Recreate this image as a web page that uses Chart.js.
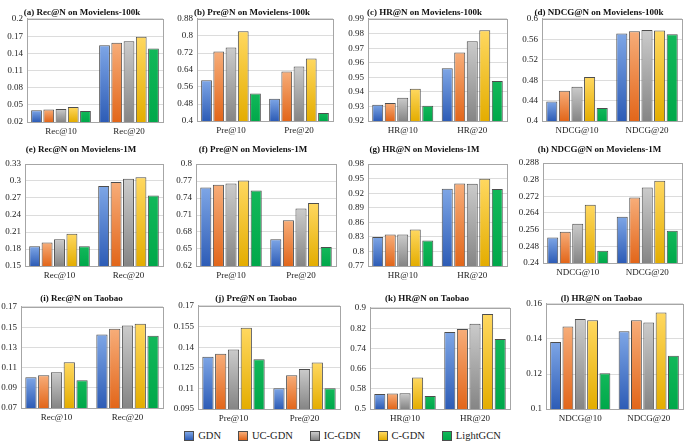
<!DOCTYPE html>
<html>
<head>
<meta charset="utf-8">
<script src="https://cdn.jsdelivr.net/npm/chart.js@4.4.1/dist/chart.umd.min.js"></script>
<style>
  body { margin: 0; background: #fff; width: 685px; height: 442px; position: relative; overflow: hidden; }
  canvas { position: absolute; }
  #legend { position: absolute; left: 0; top: 430px; width: 685px; display: flex; justify-content: center; gap: 17px;
            font-family: 'Liberation Serif', 'Times New Roman', serif; font-size: 10.5px; color: #222; }
  #legend span { display: flex; align-items: center; }
  #legend i { display: inline-block; width: 8px; height: 8px; border: 1px solid #4d4d4d; margin-right: 4px; }
</style>
</head>
<body>
<div id="legend"></div>
<script>
// series / categories
const seriesNames = ['GDN', 'UC-GDN', 'IC-GDN', 'C-GDN', 'LightGCN'];
const recLabels = ['Rec@10', 'Rec@20'];
const preLabels = ['Pre@10', 'Pre@20'];
const hrLabels = ['HR@10', 'HR@20'];
const ndcgLabels = ['NDCG@10', 'NDCG@20'];

// values: one row per series, [@10, @20]
const rec100k  = [[0.0405, 0.1543], [0.0417, 0.1584], [0.0429, 0.1613], [0.0464, 0.1689], [0.0393, 0.1484]];
const pre100k  = [[0.592, 0.505], [0.727, 0.633], [0.746, 0.656], [0.822, 0.694], [0.529, 0.438]];
const hr100k   = [[0.9312, 0.9562], [0.9324, 0.967], [0.936, 0.9748], [0.9422, 0.9822], [0.9305, 0.9475]];
const ndcg100k = [[0.4383, 0.5716], [0.4594, 0.5762], [0.4673, 0.5782], [0.4865, 0.5775], [0.4257, 0.5703]];
const rec1m    = [[0.1848, 0.291], [0.1913, 0.2981], [0.1972, 0.304], [0.2067, 0.3064], [0.1848, 0.2745]];
const pre1m    = [[0.7587, 0.6672], [0.7634, 0.7009], [0.7658, 0.7215], [0.7711, 0.731], [0.7534, 0.6536]];
const hr1m     = [[0.8299, 0.929], [0.8347, 0.940], [0.8347, 0.9394], [0.845, 0.9497], [0.8223, 0.9283]];
const ndcg1m   = [[0.2523, 0.2622], [0.255, 0.2714], [0.2589, 0.2762], [0.268, 0.2795], [0.2459, 0.2555]];
const recTb    = [[0.1005, 0.1428], [0.1025, 0.1484], [0.1054, 0.1516], [0.1152, 0.1533], [0.0975, 0.1415]];
const preTb    = [[0.1331, 0.1102], [0.1353, 0.1196], [0.1384, 0.1242], [0.1541, 0.1288], [0.1312, 0.1102]];
const hrTb     = [[0.5596, 0.8046], [0.561, 0.8166], [0.5622, 0.8377], [0.6245, 0.8762], [0.5517, 0.7768]];
const ndcgTb   = [[0.1383, 0.1444], [0.1472, 0.1507], [0.1514, 0.1495], [0.1507, 0.1552], [0.1204, 0.1305]];

// y tick ranges [min, max, step]
const yRanges = [
  [0.02, 0.2, 0.03], [0.4, 0.88, 0.08], [0.92, 0.99, 0.01], [0.4, 0.6, 0.04],
  [0.15, 0.33, 0.03], [0.62, 0.8, 0.03], [0.77, 0.98, 0.03], [0.24, 0.288, 0.008],
  [0.07, 0.17, 0.02], [0.095, 0.17, 0.015], [0.5, 0.9, 0.08], [0.1, 0.16, 0.02]
];

const titles = [
  '(a) Rec@N on Movielens-100k', '(b) Pre@N on Movielens-100k', '(c) HR@N on Movielens-100k', '(d) NDCG@N on Movielens-100k',
  '(e) Rec@N on Movielens-1M', '(f) Pre@N on Movielens-1M', '(g) HR@N on Movielens-1M', '(h) NDCG@N on Movielens-1M',
  '(i) Rec@N on Taobao', '(j) Pre@N on Taobao', '(k) HR@N on Taobao', '(l) HR@N on Taobao'
];
const allLabels = [recLabels, preLabels, hrLabels, ndcgLabels, recLabels, preLabels, hrLabels, ndcgLabels,
                   recLabels, preLabels, hrLabels, ndcgLabels];
const allValues = [rec100k, pre100k, hr100k, ndcg100k, rec1m, pre1m, hr1m, ndcg1m, recTb, preTb, hrTb, ndcgTb];

// layout: plot rectangles [left, top, right, bottom] on the page
const plots = [
  [27, 19, 163, 122], [197, 19, 333, 121], [368, 19, 507, 121], [542, 19, 682, 121],
  [25, 164, 163, 266], [196, 164, 336, 266], [368, 164, 507, 266], [543, 163, 682, 263],
  [21, 307, 163, 408], [198, 306, 340, 409], [370, 308, 510, 409], [546, 304, 683, 409]
];
const titleY = [12, 149, 298];

const fills = [
  ['#7ea6e6', '#2d5cb6'], ['#f7ad79', '#e2661a'], ['#cbcbcb', '#858585'], ['#ffd860', '#e4ad00'], ['#12b85a', '#00a84a']
];
const font = "'Liberation Serif', 'Times New Roman', serif";

function barFill(c0, c1) {
  return ctx => {
    const chart = ctx.chart;
    if (ctx.type !== 'data' || !chart.chartArea) return c1;
    const top = chart.scales.y.getPixelForValue(ctx.raw);
    const g = chart.ctx.createLinearGradient(0, top, 0, chart.chartArea.bottom);
    g.addColorStop(0, c0);
    g.addColorStop(1, c1);
    return g;
  };
}

const frame = {
  id: 'frame',
  beforeDatasetsDraw(chart) {
    const a = chart.chartArea, c = chart.ctx;
    c.save();
    c.strokeStyle = '#a6a6a6';
    c.lineWidth = 1;
    c.strokeRect(Math.round(a.left) + 0.5, Math.round(a.top) + 0.5, Math.round(a.right - a.left), Math.round(a.bottom - a.top));
    c.restore();
  }
};

plots.forEach((p, i) => {
  const [L, T, R, B] = p;
  const yw = L < 24 ? 21 : 26;
  const xh = 20;
  const left = L - yw;
  const top = Math.round(titleY[Math.floor(i / 4)] - 5.4);
  const w = R - left + 2;
  const h = B + xh - top;
  const cv = document.createElement('canvas');
  cv.style.left = left + 'px';
  cv.style.top = top + 'px';
  cv.style.width = w + 'px';
  cv.style.height = h + 'px';
  cv.width = w; cv.height = h;
  document.body.appendChild(cv);
  const [ymin, ymax, ystep] = yRanges[i];
  new Chart(cv, {
    type: 'bar',
    data: {
      labels: allLabels[i],
      datasets: seriesNames.map((name, s) => ({
        label: name,
        data: allValues[i][s],
        backgroundColor: barFill(fills[s][0], fills[s][1]),
        borderColor: '#4d4d4d',
        borderWidth: 1,
        categoryPercentage: 0.9,
        barPercentage: 0.88
      }))
    },
    options: {
      responsive: false,
      animation: false,
      devicePixelRatio: 1,
      layout: { padding: { right: 2 } },
      plugins: {
        legend: { display: false },
        tooltip: { enabled: false },
        title: {
          display: true, text: titles[i], color: '#111',
          font: { family: font, size: 9, weight: 'bold' },
          padding: { top: 0, bottom: T - top - 10.8 }
        }
      },
      scales: {
        x: {
          grid: { display: false, drawTicks: false },
          border: { color: '#a6a6a6' },
          ticks: { color: '#222', font: { family: font, size: 9 }, padding: 4 },
          afterFit: s => { s.height = xh; }
        },
        y: {
          min: ymin, max: ymax,
          grid: { color: '#dcdcdc', drawTicks: false },
          border: { color: '#a6a6a6' },
          ticks: {
            stepSize: ystep, color: '#222', padding: 4,
            font: { family: font, size: 9 },
            callback: v => String(+v.toFixed(4))
          },
          afterFit: s => { s.width = yw; }
        }
      }
    },
    plugins: [frame]
  });
});

// legend
const legend = document.getElementById('legend');
seriesNames.forEach((name, s) => {
  const sp = document.createElement('span');
  const sw = document.createElement('i');
  sw.style.background = 'linear-gradient(' + fills[s][0] + ',' + fills[s][1] + ')';
  sp.appendChild(sw);
  sp.appendChild(document.createTextNode(name));
  legend.appendChild(sp);
});
</script>
</body>
</html>
